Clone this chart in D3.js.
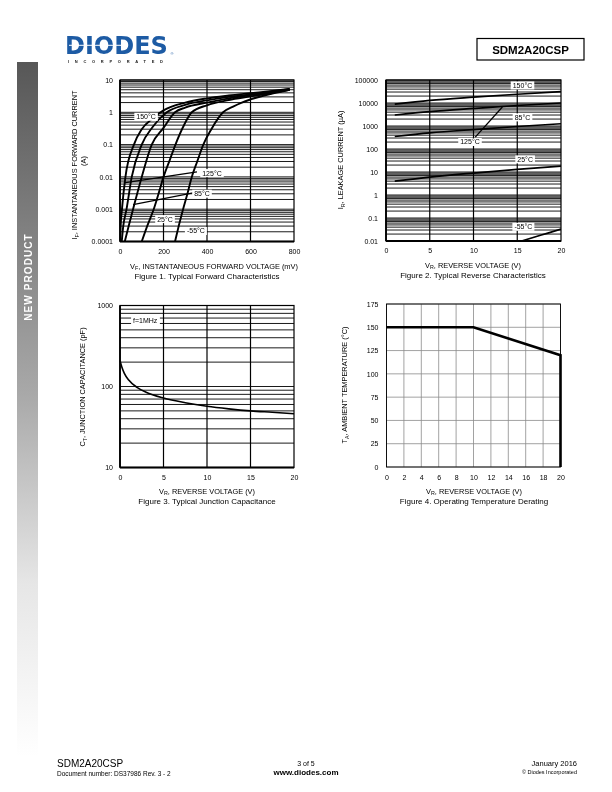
<!DOCTYPE html>
<html><head><meta charset="utf-8">
<script src="https://cdn.jsdelivr.net/npm/d3@7"></script>
<style>
body{margin:0;background:#fff}
svg{display:block;will-change:transform}
text{font-family:"Liberation Sans",Arial,Helvetica,sans-serif;fill:#000}
</style>
</head><body>
<svg id="page" width="612" height="792"></svg>
<script>
// ================= DATA =================
// Figure 1: forward characteristics (VF in mV, IF in A)
const fig1Series = ["150°C","125°C","85°C","25°C","-55°C"];
const fig1V150 = [1, 3, 9, 25, 64, 100, 150, 200, 300, 400, 500, 600, 700, 780];
const fig1I150 = [0.0001, 0.0003, 0.001, 0.01, 0.1, 0.3, 0.65, 1.15, 2.0, 2.7, 3.3, 3.9, 4.6, 5.3];
const fig1V125 = [8, 15, 30, 54, 100, 150, 215, 300, 400, 500, 600, 700, 780];
const fig1I125 = [0.0001, 0.0003, 0.001, 0.01, 0.1, 0.35, 1.0, 1.7, 2.35, 3.0, 3.6, 4.4, 5.2];
const fig1V85 = [22, 40, 60, 100, 146, 200, 253, 300, 400, 500, 600, 700, 780];
const fig1I85 = [0.0001, 0.0003, 0.001, 0.01, 0.1, 0.33, 1.0, 1.4, 2.0, 2.7, 3.4, 4.2, 5.1];
const fig1V25 = [100, 125, 155, 180, 200, 230, 255, 290, 330, 400, 500, 600, 700, 780];
const fig1I25 = [0.0001, 0.0003, 0.001, 0.0035, 0.01, 0.035, 0.1, 0.35, 1.0, 1.65, 2.4, 3.1, 4.0, 5.0];
const fig1Vm55 = [253, 270, 290, 310, 330, 355, 383, 420, 474, 520, 560, 600, 700, 780];
const fig1Im55 = [0.0001, 0.0003, 0.001, 0.003, 0.01, 0.03, 0.1, 0.3, 1.0, 1.5, 2.0, 2.5, 3.8, 5.0];
const fig1XTicks = [0, 200, 400, 600, 800];
const fig1YTicks = [0.0001, 0.001, 0.01, 0.1, 1, 10];
const fig1YTickLabels = ["0.0001", "0.001", "0.01", "0.1", "1", "10"];
const fig1XGrid = [200, 400, 600];
// curve label anchors (data units) and leader lines
const fig1LabelV = [120, 423, 377, 207, 349];
const fig1LabelI = [0.72, 0.013, 0.003, 0.00049, 0.00021];
const fig1Leader125V = [18, 354];
const fig1Leader125I = [0.0065, 0.0144];
const fig1Leader85V = [60, 336];
const fig1Leader85I = [0.00138, 0.0032];

// Figure 2: reverse characteristics (VR in V, IR in uA)
const fig2Series = ["150°C","125°C","85°C","25°C","-55°C"];
const fig2V = [1, 5, 10, 15, 20];
const fig2I150 = [9000, 13000, 18000, 24000, 31000];
const fig2I125 = [3000, 4200, 5800, 7800, 10000];
const fig2I85 = [350, 500, 700, 950, 1250];
const fig2I25 = [4, 6, 9, 13, 18];
const fig2Vm55 = [15.5, 17, 18.5, 20];
const fig2Im55 = [0.01, 0.015, 0.022, 0.033];
const fig2XTicks = [0, 5, 10, 15, 20];
const fig2YTicks = [0.01, 0.1, 1, 10, 100, 1000, 10000, 100000];
const fig2YTickLabels = ["0.01", "0.1", "1", "10", "100", "1000", "10000", "100000"];
const fig2XGrid = [5, 10, 15];
const fig2LabelV = [15.6, 9.6, 15.6, 15.9, 15.7];
const fig2LabelI = [57500, 200, 2340, 35, 0.041];
const fig2Leader125V = [10.2, 13.3];
const fig2Leader125I = [330, 6700];

// Figure 3: junction capacitance (VR in V, CT in pF)
const fig3V = [0, 0.2, 0.5, 1, 2, 3, 5, 7.5, 10, 12.5, 15, 17.5, 20];
const fig3C = [210, 175, 145, 120, 97, 85, 72, 63, 57, 53, 50, 48, 46];
const fig3XTicks = [0, 5, 10, 15, 20];
const fig3YTicks = [10, 100, 1000];
const fig3YTickLabels = ["10", "100", "1000"];
const fig3XGrid = [5, 10, 15];

// Figure 4: temperature derating (VR in V, TA in °C)
const fig4V = [0, 10, 20, 20];
const fig4T = [150, 150, 120, 0];
const fig4XTicks = [0, 2, 4, 6, 8, 10, 12, 14, 16, 18, 20];
const fig4YTicks = [0, 25, 50, 75, 100, 125, 150, 175];

// ================= DRAWING =================
const svg = d3.select("#page");
const defs = svg.append("defs");

// --- side bar ---
const grad = defs.append("linearGradient").attr("id","sideGrad")
  .attr("x1",0).attr("y1",0).attr("x2",0).attr("y2",1);
grad.append("stop").attr("offset","0%").attr("stop-color","#575757");
grad.append("stop").attr("offset","48%").attr("stop-color","#a9a9a9");
grad.append("stop").attr("offset","75%").attr("stop-color","#e6e6e6");
grad.append("stop").attr("offset","100%").attr("stop-color","#ffffff");
svg.append("rect").attr("x",17).attr("y",62).attr("width",21).attr("height",695).attr("fill","url(#sideGrad)");
svg.append("text").attr("transform","translate(32,277) rotate(-90)")
  .attr("text-anchor","middle").style("font-size","10px").style("font-weight","bold")
  .style("letter-spacing","1.1px").style("fill","#fff").text("NEW PRODUCT");

// --- logo ---
svg.append("text").attr("x",65).attr("y",53.8)
  .style("font-size","24px").style("font-weight","bold")
  .style("font-family","'DejaVu Sans',sans-serif").style("letter-spacing","0px")
  .style("fill","#1d5ba4").text("DIODES");
svg.append("line").attr("x1",69).attr("x2",121).attr("y1",45.3).attr("y2",45.3)
  .attr("stroke","#fff").attr("stroke-width",1);
svg.append("text").attr("x",170.5).attr("y",54.5).style("font-size","4px").style("fill","#1d5ba4").text("®");
svg.append("text").attr("x",68).attr("y",63.3).attr("textLength",95).attr("lengthAdjust","spacing")
  .style("font-size","4px").style("font-weight","bold").style("fill","#222").text("INCORPORATED");

// --- title box ---
svg.append("rect").attr("x",477).attr("y",38.5).attr("width",107).attr("height",21.5)
  .attr("fill","none").attr("stroke","#000").attr("stroke-width",1.2);
svg.append("text").attr("x",530.5).attr("y",53.5).attr("text-anchor","middle")
  .style("font-size","11.5px").style("font-weight","bold").text("SDM2A20CSP");

// --- footer ---
svg.append("text").attr("x",57).attr("y",767).style("font-size","10px").text("SDM2A20CSP");
svg.append("text").attr("x",57).attr("y",776).style("font-size","6.5px").text("Document number: DS37986  Rev. 3 - 2");
svg.append("text").attr("x",306).attr("y",765.5).attr("text-anchor","middle").style("font-size","7px").text("3 of 5");
svg.append("text").attr("x",306).attr("y",775).attr("text-anchor","middle").style("font-size","8px").style("font-weight","bold").text("www.diodes.com");
svg.append("text").attr("x",577).attr("y",765.5).attr("text-anchor","end").style("font-size","7.5px").text("January 2016");
svg.append("text").attr("x",577).attr("y",774).attr("text-anchor","end").style("font-size","5.5px").text("© Diodes Incorporated");

// ---------- helpers ----------
const FS = "7px";
function zip(a,b){ return a.map((v,i)=>[v,b[i]]); }
function logMinor(lo, hi){
  const out=[];
  for(let e=Math.round(Math.log10(lo)); e<Math.round(Math.log10(hi)); e++){
    for(let m=1;m<=9;m++) out.push(m*Math.pow(10,e));
  }
  out.push(hi);
  return out;
}
function labelText(g, x, y, parts, anchor, rotate, size){
  const fs = size || 7.4;
  const t = g.append("text").attr("text-anchor", anchor||"middle").attr("fill","#000").style("font-size",fs+"px");
  if(rotate) t.attr("transform",`translate(${x},${y}) rotate(-90)`);
  else t.attr("x",x).attr("y",y);
  t.append("tspan").text(parts[0]);
  if(parts[1]){
    t.append("tspan").attr("dy",1.9).style("font-size",(fs*0.72)+"px").text(parts[1]);
    t.append("tspan").attr("dy",-1.9).text(parts[2]);
  }
  return t;
}
function boxLabel(g, x, y, txt){
  const t = g.append("text").attr("x",x).attr("y",y+2.4).attr("text-anchor","middle").attr("fill","#000").style("font-size",FS).text(txt);
  const bb = t.node().getBBox();
  g.insert("rect", () => t.node()).attr("x",bb.x-2).attr("y",bb.y-0.5)
    .attr("width",bb.width+4).attr("height",bb.height+1).attr("fill","#fff");
}
function styleAxis(sel){
  sel.select(".domain").remove();
  sel.selectAll("text").style("font-size",FS).style("font-family","'Liberation Sans',Arial,sans-serif").attr("fill","#000");
}
function clip(id, x, y, w, h){
  defs.append("clipPath").attr("id",id).append("rect").attr("x",x).attr("y",y).attr("width",w).attr("height",h);
}
function frame(g, x, y){
  const [x0,x1]=x.range(), [y0,y1]=y.range();
  g.append("rect").attr("x",x0).attr("y",y1).attr("width",x1-x0).attr("height",y0-y1)
    .attr("fill","none").attr("stroke","#000").attr("stroke-width",1.2);
  g.append("line").attr("x1",x0).attr("x2",x0).attr("y1",y1).attr("y2",y0).attr("stroke","#000").attr("stroke-width",1.8);
  g.append("line").attr("x1",x0).attr("x2",x1).attr("y1",y0).attr("y2",y0).attr("stroke","#000").attr("stroke-width",1.8);
}

// ================= FIGURE 1 =================
{
  const g = svg.append("g");
  const x = d3.scaleLinear([0,800],[120,294]);
  const y = d3.scaleLog([0.0001,10],[241.5,80]);
  g.selectAll("line.h").data(logMinor(0.0001,10)).join("line")
    .attr("x1",x(0)).attr("x2",x(800)).attr("y1",d=>y(d)).attr("y2",d=>y(d))
    .attr("stroke","#000").attr("stroke-width",0.9);
  g.selectAll("line.v").data(fig1XGrid).join("line")
    .attr("x1",d=>x(d)).attr("x2",d=>x(d)).attr("y1",y(0.0001)).attr("y2",y(10))
    .attr("stroke","#000").attr("stroke-width",1.2);
  frame(g,x,y);
  clip("c1",120,80,174,161.5);
  const line = d3.line().x(d=>x(d[0])).y(d=>y(d[1])).curve(d3.curveMonotoneX);
  const curves = [zip(fig1V150,fig1I150), zip(fig1V125,fig1I125), zip(fig1V85,fig1I85), zip(fig1V25,fig1I25), zip(fig1Vm55,fig1Im55)];
  g.append("g").attr("clip-path","url(#c1)").selectAll("path").data(curves).join("path")
    .attr("d",line).attr("fill","none").attr("stroke","#000").attr("stroke-width",1.9);
  [[fig1Leader125V,fig1Leader125I],[fig1Leader85V,fig1Leader85I]].forEach(([vv,ii])=>{
    g.append("line").attr("x1",x(vv[0])).attr("y1",y(ii[0])).attr("x2",x(vv[1])).attr("y2",y(ii[1]))
      .attr("stroke","#000").attr("stroke-width",1.3);
  });
  fig1Series.forEach((s,i)=>boxLabel(g, x(fig1LabelV[i]), y(fig1LabelI[i]), s));
  const ax = g.append("g").attr("transform",`translate(0,${y(0.0001)})`)
    .call(d3.axisBottom(x).tickValues(fig1XTicks).tickSize(0).tickPadding(8));
  styleAxis(ax);
  const ay = g.append("g").attr("transform",`translate(${x(0)},0)`)
    .call(d3.axisLeft(y).tickValues(fig1YTicks).tickFormat((d,i)=>fig1YTickLabels[i]).tickSize(0).tickPadding(7));
  styleAxis(ay);
  labelText(g, 214, 268.5, ["V","F",", INSTANTANEOUS FORWARD VOLTAGE (mV)"]);
  labelText(g, 207, 278.5, ["Figure 1. Typical Forward Characteristics"], "middle", false, 8);
  labelText(g, 77, 165, ["I","F",", INSTANTANEOUS FORWARD CURRENT"], "middle", true);
  labelText(g, 86, 161, ["(A)"], "middle", true);
}

// ================= FIGURE 2 =================
{
  const g = svg.append("g");
  const x = d3.scaleLinear([0,20],[386,561]);
  const y = d3.scaleLog([0.01,100000],[241,80]);
  g.selectAll("line.h").data(logMinor(0.01,100000)).join("line")
    .attr("x1",x(0)).attr("x2",x(20)).attr("y1",d=>y(d)).attr("y2",d=>y(d))
    .attr("stroke","#000").attr("stroke-width",0.9);
  g.selectAll("line.v").data(fig2XGrid).join("line")
    .attr("x1",d=>x(d)).attr("x2",d=>x(d)).attr("y1",y(0.01)).attr("y2",y(100000))
    .attr("stroke","#000").attr("stroke-width",1.2);
  frame(g,x,y);
  clip("c2",386,80,175,161);
  const line = d3.line().x(d=>x(d[0])).y(d=>y(d[1])).curve(d3.curveMonotoneX);
  const curves = [zip(fig2V,fig2I150), zip(fig2V,fig2I125), zip(fig2V,fig2I85), zip(fig2V,fig2I25), zip(fig2Vm55,fig2Im55)];
  g.append("g").attr("clip-path","url(#c2)").selectAll("path").data(curves).join("path")
    .attr("d",line).attr("fill","none").attr("stroke","#000").attr("stroke-width",1.7);
  g.append("line").attr("x1",x(fig2Leader125V[0])).attr("y1",y(fig2Leader125I[0]))
    .attr("x2",x(fig2Leader125V[1])).attr("y2",y(fig2Leader125I[1]))
    .attr("stroke","#000").attr("stroke-width",1.3);
  fig2Series.forEach((s,i)=>boxLabel(g, x(fig2LabelV[i]), y(fig2LabelI[i]), s));
  const ax = g.append("g").attr("transform",`translate(0,${y(0.01)})`)
    .call(d3.axisBottom(x).tickValues(fig2XTicks).tickSize(0).tickPadding(7));
  styleAxis(ax);
  const ay = g.append("g").attr("transform",`translate(${x(0)},0)`)
    .call(d3.axisLeft(y).tickValues(fig2YTicks).tickFormat((d,i)=>fig2YTickLabels[i]).tickSize(0).tickPadding(8));
  styleAxis(ay);
  labelText(g, 473, 267.5, ["V","R",", REVERSE VOLTAGE (V)"]);
  labelText(g, 473, 277.5, ["Figure 2. Typical Reverse Characteristics"], "middle", false, 8);
  labelText(g, 343, 160, ["I","R",", LEAKAGE CURRENT (µA)"], "middle", true);
}

// ================= FIGURE 3 =================
{
  const g = svg.append("g");
  const x = d3.scaleLinear([0,20],[120,294]);
  const y = d3.scaleLog([10,1000],[467.5,305.5]);
  g.selectAll("line.h").data(logMinor(10,1000)).join("line")
    .attr("x1",x(0)).attr("x2",x(20)).attr("y1",d=>y(d)).attr("y2",d=>y(d))
    .attr("stroke","#000").attr("stroke-width",0.9);
  g.selectAll("line.v").data(fig3XGrid).join("line")
    .attr("x1",d=>x(d)).attr("x2",d=>x(d)).attr("y1",y(10)).attr("y2",y(1000))
    .attr("stroke","#000").attr("stroke-width",1.2);
  frame(g,x,y);
  const line = d3.line().x(d=>x(d[0])).y(d=>y(d[1])).curve(d3.curveMonotoneX);
  g.append("path").datum(zip(fig3V,fig3C)).attr("d",line)
    .attr("fill","none").attr("stroke","#000").attr("stroke-width",1.6);
  boxLabel(g, x(2.9), y(660), "f=1MHz");
  const ax = g.append("g").attr("transform",`translate(0,${y(10)})`)
    .call(d3.axisBottom(x).tickValues(fig3XTicks).tickSize(0).tickPadding(8));
  styleAxis(ax);
  const ay = g.append("g").attr("transform",`translate(${x(0)},0)`)
    .call(d3.axisLeft(y).tickValues(fig3YTicks).tickFormat((d,i)=>fig3YTickLabels[i]).tickSize(0).tickPadding(7));
  styleAxis(ay);
  labelText(g, 207, 493.5, ["V","R",", REVERSE VOLTAGE (V)"]);
  labelText(g, 207, 503.5, ["Figure 3. Typical Junction Capacitance"], "middle", false, 8);
  labelText(g, 85, 387, ["C","T",", JUNCTION CAPACITANCE (pF)"], "middle", true);
}

// ================= FIGURE 4 =================
{
  const g = svg.append("g");
  const x = d3.scaleLinear([0,20],[386.5,560.5]);
  const y = d3.scaleLinear([0,175],[467,304]);
  g.selectAll("line.h").data(fig4YTicks).join("line")
    .attr("x1",x(0)).attr("x2",x(20)).attr("y1",d=>y(d)).attr("y2",d=>y(d))
    .attr("stroke","#8a8a8a").attr("stroke-width",0.8);
  g.selectAll("line.v").data(fig4XTicks).join("line")
    .attr("x1",d=>x(d)).attr("x2",d=>x(d)).attr("y1",y(0)).attr("y2",y(175))
    .attr("stroke","#8a8a8a").attr("stroke-width",0.8);
  g.append("rect").attr("x",x(0)).attr("y",y(175)).attr("width",x(20)-x(0)).attr("height",y(0)-y(175))
    .attr("fill","none").attr("stroke","#000").attr("stroke-width",0.9);
  const line = d3.line().x(d=>x(d[0])).y(d=>y(d[1]));
  g.append("path").datum(zip(fig4V,fig4T)).attr("d",line)
    .attr("fill","none").attr("stroke","#000").attr("stroke-width",2.6);
  const ax = g.append("g").attr("transform",`translate(0,${y(0)})`)
    .call(d3.axisBottom(x).tickValues(fig4XTicks).tickSize(0).tickPadding(8));
  styleAxis(ax);
  const ay = g.append("g").attr("transform",`translate(${x(0)},0)`)
    .call(d3.axisLeft(y).tickValues(fig4YTicks).tickSize(0).tickPadding(8));
  styleAxis(ay);
  labelText(g, 474, 493.5, ["V","R",", REVERSE VOLTAGE (V)"]);
  labelText(g, 474, 503.5, ["Figure 4. Operating Temperature Derating"], "middle", false, 8);
  labelText(g, 347, 385, ["T","A",", AMBIENT TEMPERATURE (°C)"], "middle", true);
}
</script>
</body></html>
